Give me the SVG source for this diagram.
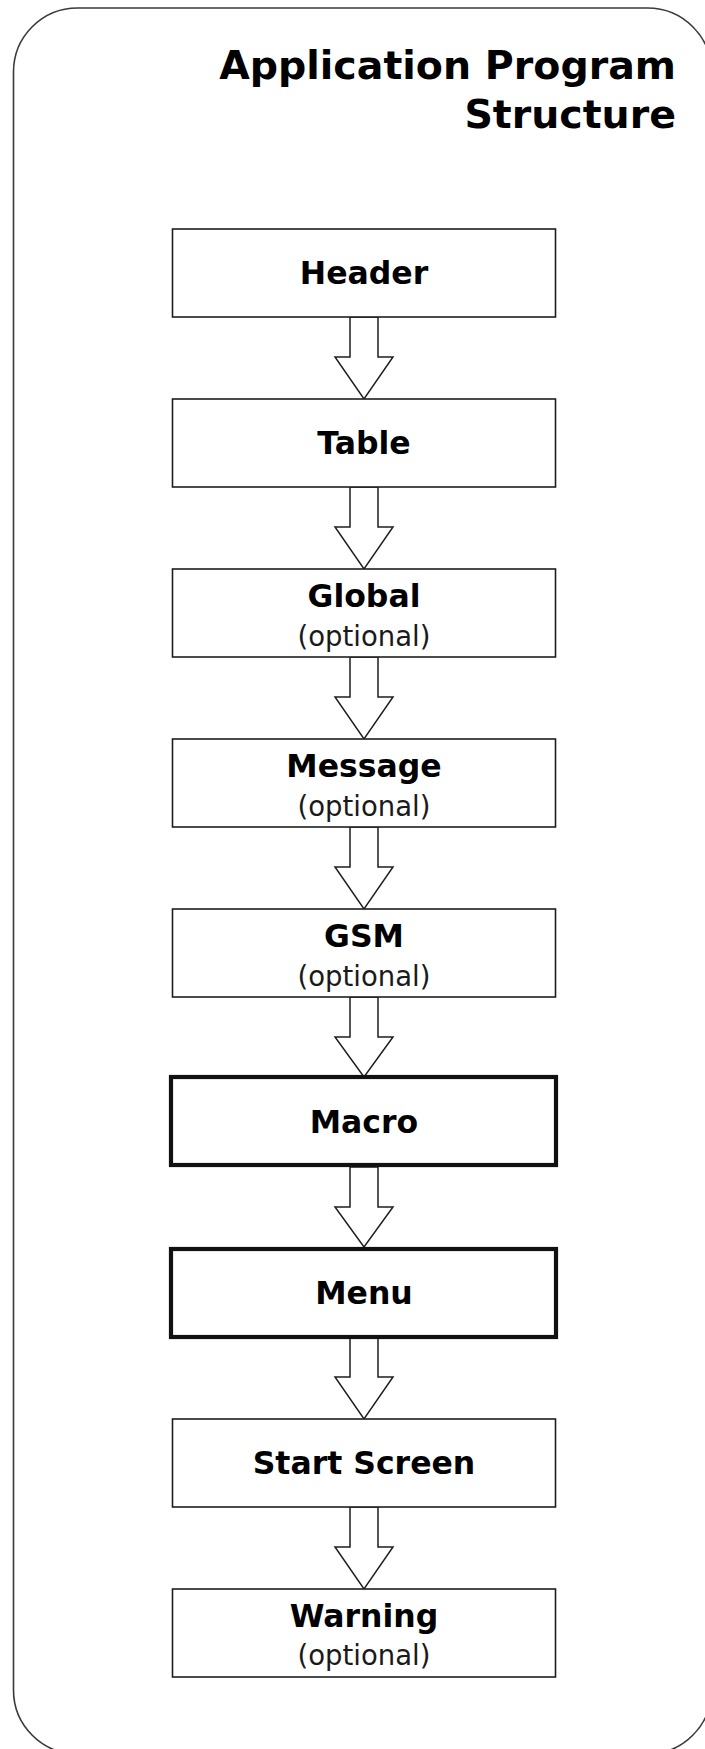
<svg xmlns="http://www.w3.org/2000/svg" width="705" height="1749" viewBox="0 0 705 1749">
  <style>
    .frame { fill: #ffffff; stroke: #3a3a3a; stroke-width: 1.6; }
    .box { fill: #ffffff; stroke: #1e1e1e; stroke-width: 1.6; }
    .box-strong { fill: #ffffff; stroke: #111111; stroke-width: 4.2; }
    .arrow { fill: #ffffff; stroke: #1e1e1e; stroke-width: 1.5; stroke-linejoin: miter; }
    .title { font-family: "DejaVu Sans", Verdana, sans-serif; font-weight: bold; font-size: 39.5px; fill: #000000; text-anchor: end; }
    .label { font-family: "DejaVu Sans", Verdana, sans-serif; font-weight: bold; font-size: 31.5px; fill: #000000; text-anchor: middle; }
    .note { font-family: "DejaVu Sans", Verdana, sans-serif; font-size: 27.5px; fill: #1a1a1a; text-anchor: middle; }
  </style>

  <!-- outer frame, continues past the right and bottom edges -->
  <rect class="frame" x="13.5" y="8" width="698" height="1746" rx="64" ry="64"/>

  <g id="title">
    <text class="title" x="676" y="79">Application Program</text>
    <text class="title" x="676" y="128">Structure</text>
  </g>

  <!-- block arrows between consecutive sections -->
  <g id="connectors">
    <polygon class="arrow" points="350,317 378,317 378,357 393,357 364,399 335,357 350,357"/>
    <polygon class="arrow" points="350,487 378,487 378,527 393,527 364,569 335,527 350,527"/>
    <polygon class="arrow" points="350,657 378,657 378,697 393,697 364,739 335,697 350,697"/>
    <polygon class="arrow" points="350,827 378,827 378,867 393,867 364,909 335,867 350,867"/>
    <polygon class="arrow" points="350,997 378,997 378,1037 393,1037 364,1077 335,1037 350,1037"/>
    <polygon class="arrow" points="350,1167 378,1167 378,1207 393,1207 364,1247 335,1207 350,1207"/>
    <polygon class="arrow" points="350,1338 378,1338 378,1377 393,1377 364,1419 335,1377 350,1377"/>
    <polygon class="arrow" points="350,1507 378,1507 378,1547 393,1547 364,1589 335,1547 350,1547"/>
  </g>

  <g id="header">
    <rect class="box" x="172.5" y="229" width="383" height="88"/>
    <text class="label" x="364" y="284">Header</text>
  </g>

  <g id="table">
    <rect class="box" x="172.5" y="399" width="383" height="88"/>
    <text class="label" x="364" y="454">Table</text>
  </g>

  <g id="global">
    <rect class="box" x="172.5" y="569" width="383" height="88"/>
    <text class="label" x="364" y="607">Global</text>
    <text class="note" x="364" y="646">(optional)</text>
  </g>

  <g id="message">
    <rect class="box" x="172.5" y="739" width="383" height="88"/>
    <text class="label" x="364" y="777">Message</text>
    <text class="note" x="364" y="816">(optional)</text>
  </g>

  <g id="gsm">
    <rect class="box" x="172.5" y="909" width="383" height="88"/>
    <text class="label" x="364" y="947">GSM</text>
    <text class="note" x="364" y="986">(optional)</text>
  </g>

  <g id="macro">
    <rect class="box-strong" x="171" y="1077" width="385" height="88"/>
    <text class="label" x="364" y="1133">Macro</text>
  </g>

  <g id="menu">
    <rect class="box-strong" x="171" y="1249" width="385" height="88"/>
    <text class="label" x="364" y="1304">Menu</text>
  </g>

  <g id="start-screen">
    <rect class="box" x="172.5" y="1419" width="383" height="88"/>
    <text class="label" x="364" y="1474">Start Screen</text>
  </g>

  <g id="warning">
    <rect class="box" x="172.5" y="1589" width="383" height="88"/>
    <text class="label" x="364" y="1627">Warning</text>
    <text class="note" x="364" y="1665">(optional)</text>
  </g>
</svg>
